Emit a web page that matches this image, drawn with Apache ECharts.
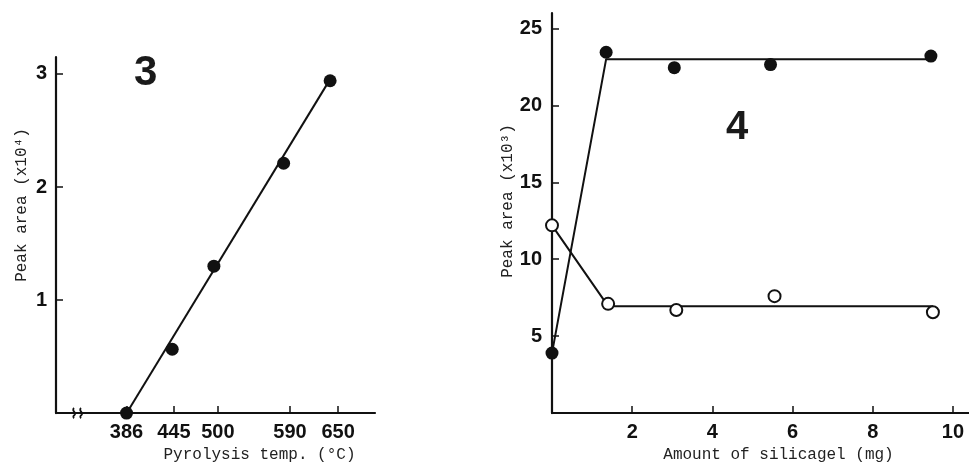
<!DOCTYPE html>
<html>
<head>
<meta charset="utf-8">
<script src="https://cdn.jsdelivr.net/npm/echarts@6/dist/echarts.min.js"></script>
<style>
html,body{margin:0;padding:0;background:#fff;}
#c{width:969px;height:468px;}
</style>
</head>
<body>
<div id="c"></div>
<script>
// ---- Panel 3: pyrolysis temperature ----
var pyroTemps = [386, 443, 495, 582, 640];
var pyroArea = [0, 0.565, 1.3, 2.21, 2.94];
var pyroFitX = [387, 638];
var pyroFitY = [0.01, 2.93];
var pyroTicks = [386, 445, 500, 590, 650];
var pyroYTicks = [1, 2, 3];
var pyroBreakAt = [325];

// ---- Panel 4: amount of silicagel ----
var silicaFilledX = [0, 1.35, 3.05, 5.45, 9.45];
var silicaFilledY = [3.9, 23.45, 22.45, 22.65, 23.2];
var silicaOpenX = [0, 1.4, 3.1, 5.55, 9.5];
var silicaOpenY = [12.2, 7.1, 6.7, 7.6, 6.55];
var filledFitX = [0, 1.35, 9.45];
var filledFitY = [3.9, 23.0, 23.0];
var openFitX = [0, 1.4, 9.5];
var openFitY = [12.2, 6.95, 6.95];
var silicaXTicks = [2, 4, 6, 8, 10];
var silicaYTicks = [5, 10, 15, 20, 25];

function zip(a, b) { return a.map(function (v, i) { return [v, b[i]]; }); }

var monoFont = "'Liberation Mono', 'DejaVu Sans Mono', monospace";
var tickFont = "'Liberation Sans', Arial, sans-serif";
var axisLine = { show: true, onZero: false, lineStyle: { color: '#111', width: 2.2 } };
var tickStyle = { lineStyle: { color: '#111', width: 1.5 } };
var labelStyle = { color: '#111', fontFamily: tickFont, fontWeight: 'bold', fontSize: 20 };
var nameStyle = { color: '#222', fontFamily: monoFont, fontSize: 16 };

var breakPath = 'path://M3,0 C0,3 6,5 3,8 C2,9 2,10 3,11 M9,0 C6,3 12,5 9,8 C8,9 8,10 9,11';

var chart = echarts.init(document.getElementById('c'), null, { renderer: 'canvas' });
chart.setOption({
  backgroundColor: '#fff',
  animation: false,
  grid: [
    { left: 56, top: 57, width: 319, height: 365 },
    { left: 552, top: 13, width: 417, height: 404 }
  ],
  xAxis: [
    {
      gridIndex: 0, type: 'value', min: 298, max: 696,
      splitLine: { show: false }, axisLine: axisLine,
      axisTick: Object.assign({ inside: true, length: 7, customValues: pyroTicks }, tickStyle),
      axisLabel: Object.assign({ margin: 9, customValues: pyroTicks }, labelStyle),
      name: 'Pyrolysis temp. (°C)', nameLocation: 'middle', nameGap: 27,
      nameTextStyle: Object.assign({ padding: [0, 0, 0, 88] }, nameStyle)
    },
    {
      gridIndex: 1, type: 'value', min: 0, max: 10.4,
      splitLine: { show: false }, axisLine: axisLine,
      axisTick: Object.assign({ inside: true, length: 7, customValues: silicaXTicks }, tickStyle),
      axisLabel: Object.assign({ margin: 9, customValues: silicaXTicks }, labelStyle),
      name: 'Amount of silicagel (mg)', nameLocation: 'middle', nameGap: 30,
      nameTextStyle: Object.assign({ padding: [0, 0, 0, 36] }, nameStyle)
    }
  ],
  yAxis: [
    {
      gridIndex: 0, type: 'value', min: 0, max: 3.15,
      splitLine: { show: false }, axisLine: axisLine,
      axisTick: Object.assign({ inside: true, length: 7, customValues: pyroYTicks }, tickStyle),
      axisLabel: Object.assign({ margin: 9, customValues: pyroYTicks }, labelStyle),
      name: 'Peak area (x10⁴)', nameLocation: 'middle', nameGap: 26,
      nameTextStyle: Object.assign({ padding: [0, 0, 0, 60] }, nameStyle)
    },
    {
      gridIndex: 1, type: 'value', min: 0, max: 26,
      splitLine: { show: false }, axisLine: axisLine,
      axisTick: Object.assign({ inside: true, length: 7, customValues: silicaYTicks }, tickStyle),
      axisLabel: Object.assign({ margin: 10, customValues: silicaYTicks }, labelStyle),
      name: 'Peak area (x10³)', nameLocation: 'middle', nameGap: 27,
      nameTextStyle: Object.assign({ padding: [0, 0, 0, 24] }, nameStyle)
    }
  ],
  graphic: [
    { type: 'text', left: 134, top: 52, style: { text: '3', fill: '#1a1a1a', font: 'bold 42px "Liberation Sans", Arial, sans-serif' } },
    { type: 'text', left: 726, top: 108, style: { text: '4', fill: '#1a1a1a', font: 'bold 40px "Liberation Sans", Arial, sans-serif' } }
  ],
  series: [
    {
      type: 'line', xAxisIndex: 0, yAxisIndex: 0, data: zip(pyroFitX, pyroFitY),
      showSymbol: false, symbol: 'none', lineStyle: { color: '#111', width: 2 }, z: 2
    },
    {
      type: 'scatter', xAxisIndex: 0, yAxisIndex: 0, data: zip(pyroTemps, pyroArea),
      symbol: 'circle', symbolSize: 13, itemStyle: { color: '#111', opacity: 1 }, z: 3
    },
    {
      type: 'scatter', xAxisIndex: 0, yAxisIndex: 0, data: pyroBreakAt.map(function (v) { return [v, 0]; }),
      symbol: breakPath, symbolSize: [9, 10],
      itemStyle: { color: 'none', borderColor: '#111', borderWidth: 1.8, opacity: 1 }, z: 4, silent: true
    },
    {
      type: 'line', xAxisIndex: 1, yAxisIndex: 1, data: zip(filledFitX, filledFitY),
      showSymbol: false, symbol: 'none', lineStyle: { color: '#111', width: 2 }, z: 2
    },
    {
      type: 'line', xAxisIndex: 1, yAxisIndex: 1, data: zip(openFitX, openFitY),
      showSymbol: false, symbol: 'none', lineStyle: { color: '#111', width: 2 }, z: 2
    },
    {
      type: 'scatter', xAxisIndex: 1, yAxisIndex: 1, data: zip(silicaFilledX, silicaFilledY),
      symbol: 'circle', symbolSize: 13, itemStyle: { color: '#111', opacity: 1 }, z: 3
    },
    {
      type: 'scatter', xAxisIndex: 1, yAxisIndex: 1, data: zip(silicaOpenX, silicaOpenY),
      symbol: 'circle', symbolSize: 12,
      itemStyle: { color: '#fff', borderColor: '#111', borderWidth: 2, opacity: 1 }, z: 3
    }
  ]
});
</script>
</body>
</html>
